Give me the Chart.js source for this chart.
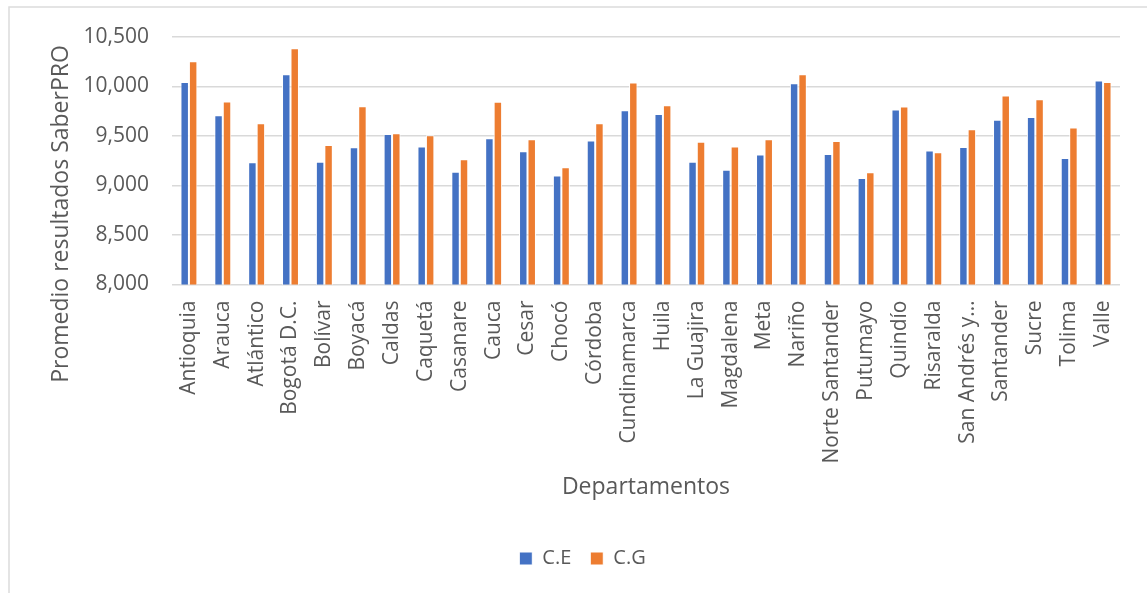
<!DOCTYPE html>
<html>
<head>
<meta charset="utf-8">
<script src="https://cdn.jsdelivr.net/npm/chart.js@4/dist/chart.umd.min.js"></script>
<style>
  html, body { margin: 0; padding: 0; background: #fff; }
  #wrap { position: relative; width: 1147px; height: 593px; }
</style>
</head>
<body>
<div id="wrap"><canvas id="chart"></canvas></div>
<script>
// ---------------------------
// Data
// ---------------------------
const departamentos = [
  "Antioquia", "Arauca", "Atlántico", "Bogotá D.C.", "Bolívar", "Boyacá", "Caldas",
  "Caquetá", "Casanare", "Cauca", "Cesar", "Chocó", "Córdoba", "Cundinamarca",
  "Huila", "La Guajira", "Magdalena", "Meta", "Nariño", "Norte Santander",
  "Putumayo", "Quindío", "Risaralda", "San Andrés y…", "Santander", "Sucre",
  "Tolima", "Valle"
];
const ceValues = [
  10046, 9710, 9234, 10124, 9241, 9386, 9520, 9393, 9140, 9477, 9346, 9101, 9454, 9761,
  9723, 9241, 9160, 9312, 10033, 9318, 9075, 9768, 9353, 9389, 9663, 9693, 9278, 10061
];
const cgValues = [
  10256, 9849, 9628, 10386, 9409, 9800, 9527, 9507, 9265, 9845, 9467, 9184, 9628, 10040,
  9811, 9443, 9393, 9467, 10124, 9450, 9134, 9798, 9335, 9568, 9909, 9872, 9585, 10046
];
const yMin = 8000;
const yMax = 10500;
const yStep = 500;

const textColor = "#595959";
const fontFamily = "'Open Sans', sans-serif";

// ---------------------------
// Frame + rotated y-axis title
// ---------------------------
const frameAndTitle = {
  id: "frameAndTitle",
  beforeDraw(chart) {
    const ctx = chart.ctx;
    ctx.save();
    ctx.strokeStyle = "#dcdcdc";
    ctx.lineWidth = 1.5;
    ctx.strokeRect(9, 7, 2000, 2000);
    ctx.restore();
  },
  afterDraw(chart) {
    const ctx = chart.ctx;
    ctx.save();
    ctx.translate(68, 214);
    ctx.rotate(-Math.PI / 2);
    ctx.font = "23px " + fontFamily;
    ctx.fillStyle = textColor;
    ctx.textAlign = "center";
    ctx.textBaseline = "alphabetic";
    ctx.fillText("Promedio resultados SaberPRO", 0, 0);
    ctx.restore();
  }
};

const ctx = document.getElementById("chart").getContext("2d");
new Chart(ctx, {
  type: "bar",
  data: {
    labels: departamentos,
    datasets: [
      {
        label: "C.E",
        data: ceValues,
        backgroundColor: "#4472C4",
        borderColor: "#ffffff",
        borderWidth: 1
      },
      {
        label: "C.G",
        data: cgValues,
        backgroundColor: "#ED7D31",
        borderColor: "#ffffff",
        borderWidth: 1
      }
    ]
  },
  options: {
    responsive: true,
    maintainAspectRatio: false,
    animation: false,
    layout: { padding: { left: 45, right: 27, top: 37, bottom: 14.5 } },
    datasets: { bar: { categoryPercentage: 0.5, barPercentage: 1 } },
    plugins: {
      tooltip: { enabled: false },
      legend: {
        position: "bottom",
        labels: {
          boxWidth: 13,
          boxHeight: 13,
          padding: 19,
          color: textColor,
          font: { family: fontFamily, size: 20 }
        }
      }
    },
    scales: {
      x: {
        grid: { display: false, drawTicks: false },
        border: { display: false },
        ticks: {
          autoSkip: false,
          minRotation: 90,
          maxRotation: 90,
          padding: 16,
          color: textColor,
          font: { family: fontFamily, size: 21 }
        },
        title: {
          display: true,
          text: "Departamentos",
          color: textColor,
          font: { family: fontFamily, size: 23, lineHeight: 1.2 },
          padding: { top: 0, bottom: 28 }
        },
        afterFit(scale) { scale.height = 245; }
      },
      y: {
        min: yMin,
        max: yMax,
        grid: { color: "#d9d9d9", lineWidth: 1.5, drawTicks: false },
        border: { display: false },
        ticks: {
          stepSize: yStep,
          padding: 23,
          color: textColor,
          font: { family: fontFamily, size: 21 },
          callback: v => v.toLocaleString("en-US")
        },
        afterFit(scale) { scale.width = 127; }
      }
    }
  },
  plugins: [frameAndTitle]
});
</script>
</body>
</html>
